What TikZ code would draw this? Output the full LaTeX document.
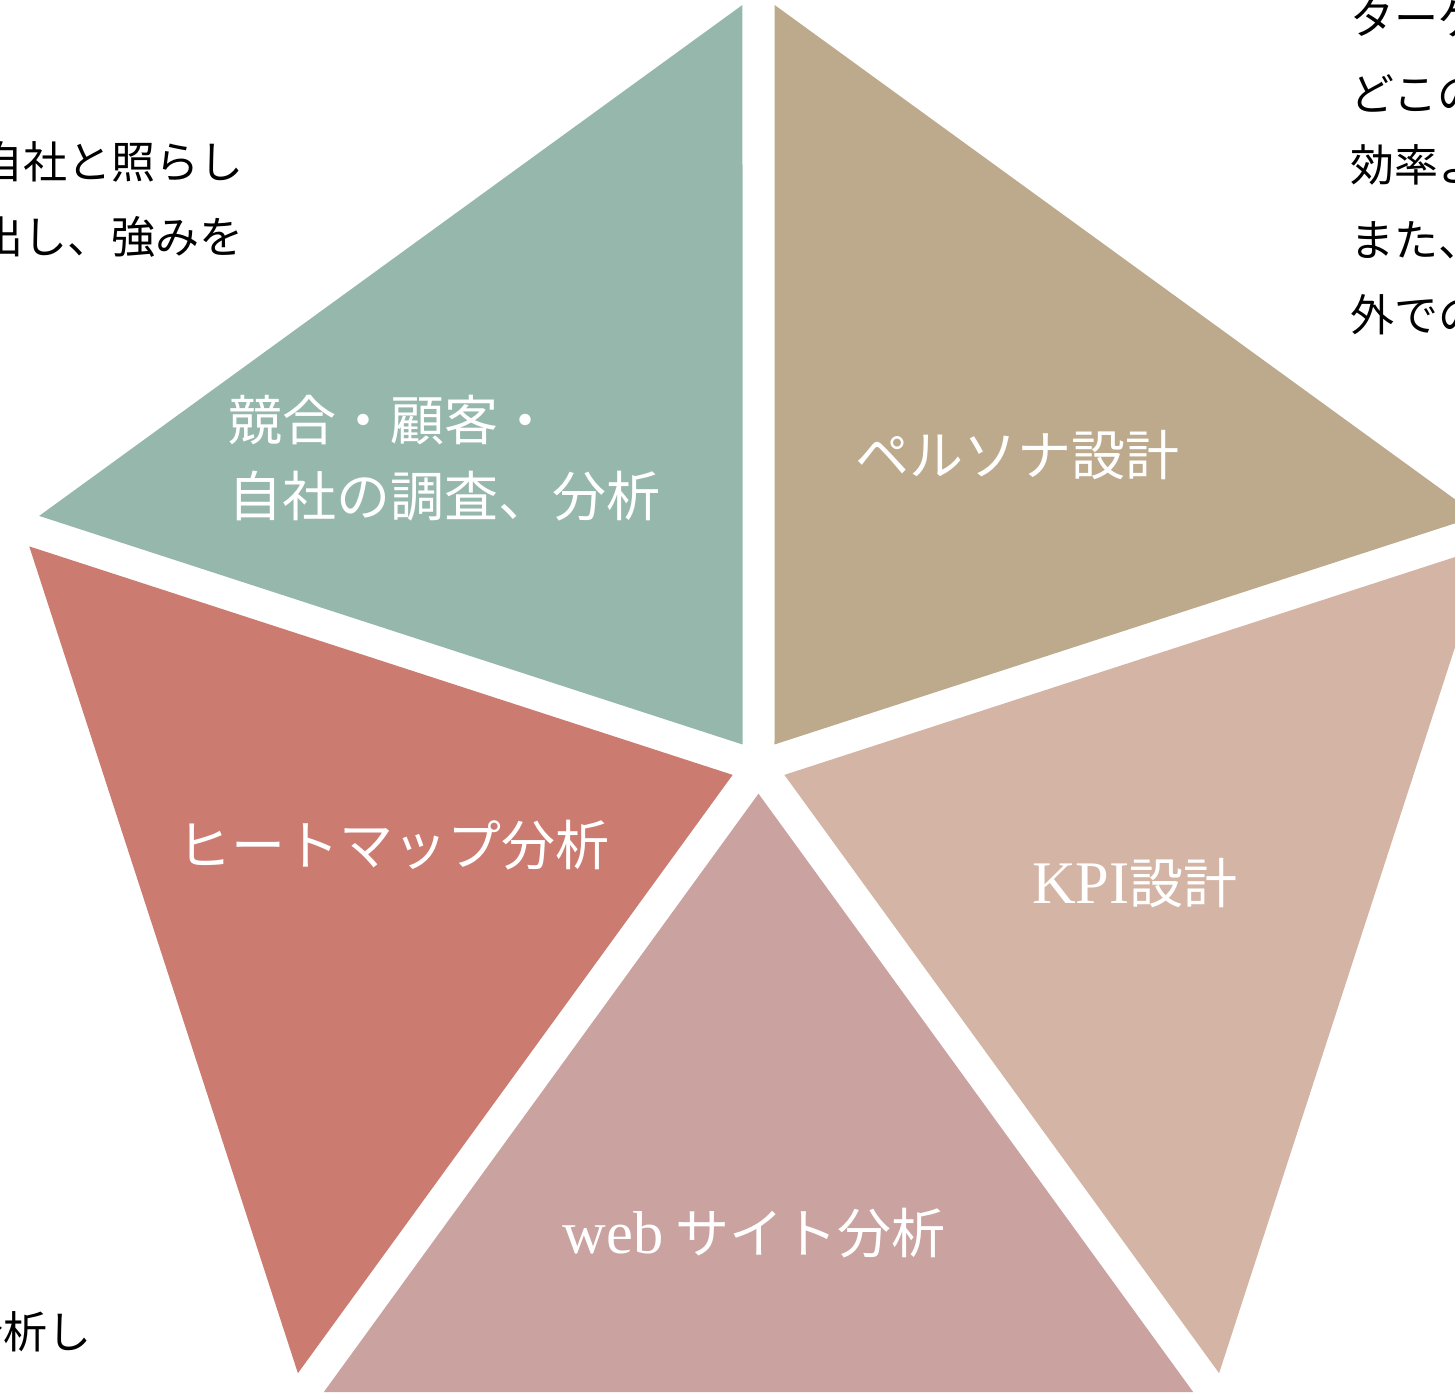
\documentclass[tikz,border=0pt]{standalone}
\usepackage{fontspec}
\newfontfamily\jp{Noto Sans CJK JP}
\newfontfamily\lat{Liberation Serif}[Scale=1.12]
\usetikzlibrary{calc}
\definecolor{sage}{RGB}{150,184,172}
\definecolor{khaki}{RGB}{189,169,139}
\definecolor{blush}{RGB}{212,181,165}
\definecolor{rose}{RGB}{202,162,160}
\definecolor{brick}{RGB}{203,123,112}
\tikzstyle{lbl} = [text=white,inner sep=0pt,align=left,font={\jp\fontsize{27}{38}\selectfont}]
\tikzstyle{note} = [text=black,inner sep=0pt,font={\jp\fontsize{22}{30}\selectfont}]

\begin{document}
\begin{tikzpicture}[x=0.5pt,y=0.5pt]
\useasboundingbox (0,0) rectangle (1455,1392);
\coordinate (o) at (758.5,625.5);
% corners of the pentagon
\foreach \i/\a in {0/90,1/162,2/234,3/306,4/378}
  \coordinate (v\i) at ($(o)+(\a:773.2)$);
\coordinate (v5) at (v0);
% five pieces, white gaps between them
\foreach \i/\j/\a/\col in {0/1/126/sage,1/2/198/brick,2/3/270/rose,3/4/342/blush,4/5/54/khaki}
  \fill[\col] ($(o)+(\a:27.2)$) -- ($(v\i)!9.9pt!(v\j)$) -- ($(v\j)!9.9pt!(v\i)$) -- cycle;

\node[lbl,anchor=west] (survey) at (228,934) {競合・顧客・\\自社の調査、分析};
\node[lbl] (persona) at (1017,937) {ペルソナ設計};
\node[lbl] (kpi) at (1135,509) {{\lat KPI}設計};
\node[lbl] (heatmap) at (393,547) {ヒートマップ分析};
\node[lbl] (website) at (754,159) {{\lat web} サイト分析};

% texts cut by the edges
\node[note,anchor=east] (left1) at (244,1230) {自社と照らし};
\node[note,anchor=east] (left2) at (244,1155) {出し、強みを};
\node[note,anchor=east] (left3) at (92,60) {分析し};
\node[note,anchor=west] (right1) at (1350,1374) {ターゲ};
\node[note,anchor=west] (right2) at (1350,1299) {どこの};
\node[note,anchor=west] (right3) at (1350,1227) {効率よ};
\node[note,anchor=west] (right4) at (1350,1152) {また、};
\node[note,anchor=west] (right5) at (1350,1077) {外での};
\end{tikzpicture}
\end{document}
